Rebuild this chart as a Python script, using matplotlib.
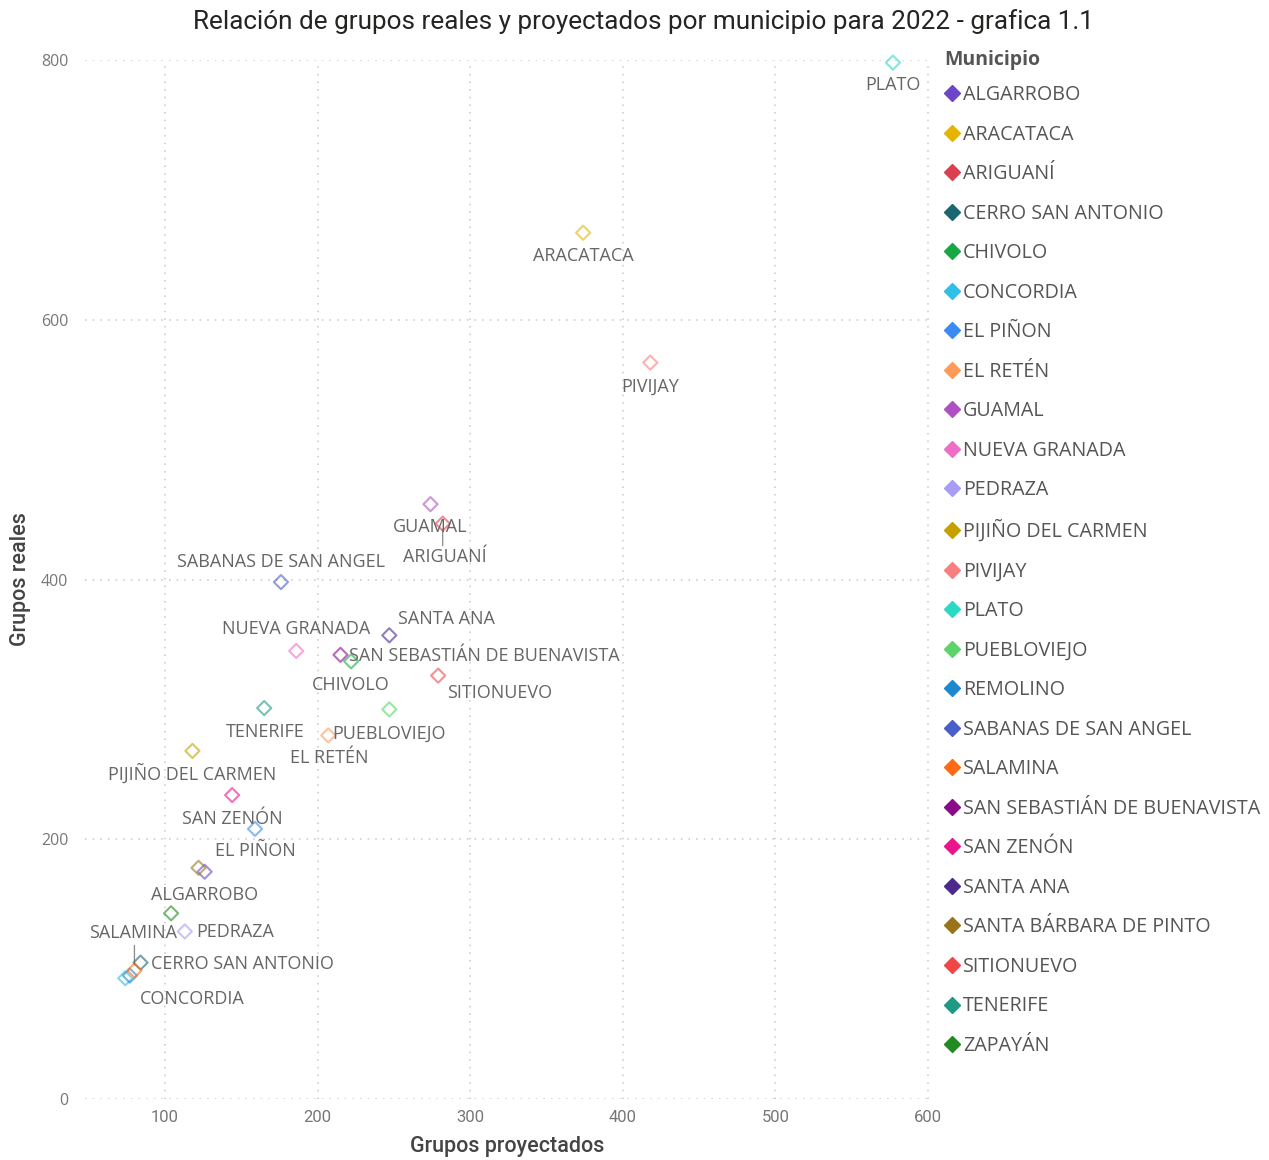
import matplotlib
matplotlib.use("Agg")
import matplotlib.pyplot as plt
from matplotlib.lines import Line2D
from matplotlib.colors import to_rgba

# ---------------- data ----------------
municipios = ["ALGARROBO", "ARACATACA", "ARIGUANÍ", "CERRO SAN ANTONIO", "CHIVOLO",
              "CONCORDIA", "EL PIÑON", "EL RETÉN", "GUAMAL", "NUEVA GRANADA", "PEDRAZA",
              "PIJIÑO DEL CARMEN", "PIVIJAY", "PLATO", "PUEBLOVIEJO", "REMOLINO",
              "SABANAS DE SAN ANGEL", "SALAMINA", "SAN SEBASTIÁN DE BUENAVISTA",
              "SAN ZENÓN", "SANTA ANA", "SANTA BÁRBARA DE PINTO", "SITIONUEVO",
              "TENERIFE", "ZAPAYÁN"]
grupos_proyectados = [126, 374, 282, 84, 222, 74, 159, 207, 274, 186, 113,
                      118, 418, 577, 247, 77, 176, 80, 215, 144, 247, 122, 279,
                      165, 104]
grupos_reales = [175, 667, 443, 105, 337, 93, 208, 280, 458, 345, 129,
                 268, 567, 798, 300, 95, 398, 99, 342, 234, 357, 178, 326,
                 301, 143]
colores = ["#6B46C8", "#E6B400", "#D9414F", "#1C6670", "#17A843", "#2EC0E8",
           "#3B8BF2", "#FF9A57", "#B04FC2", "#F06CC6", "#A99CF7", "#C4A000",
           "#F77F7F", "#2AD9C2", "#5CD46A", "#1B88CF", "#4A5EC7", "#FF6B13",
           "#8A0A8A", "#E8168A", "#4A2A8A", "#9A7416", "#F24646", "#1E9985",
           "#228A22"]
etiquetas_visibles = ["ALGARROBO", "ARACATACA", "ARIGUANÍ", "CERRO SAN ANTONIO", "CHIVOLO",
                      "CONCORDIA", "EL PIÑON", "EL RETÉN", "GUAMAL", "NUEVA GRANADA",
                      "PEDRAZA", "PIJIÑO DEL CARMEN", "PIVIJAY", "PLATO", "PUEBLOVIEJO",
                      "SABANAS DE SAN ANGEL", "SALAMINA", "SAN SEBASTIÁN DE BUENAVISTA",
                      "SAN ZENÓN", "SANTA ANA", "SITIONUEVO", "TENERIFE"]
x_ticks = [100, 200, 300, 400, 500, 600]
y_ticks = [0, 200, 400, 600, 800]

# ---------------- label placement (pixel offsets, ha) ----------------
label_pos = {
    "PLATO": (0, -22, "center"),
    "ARACATACA": (0, -23, "center"),
    "PIVIJAY": (0, -24, "center"),
    "GUAMAL": (0, -23, "center"),
    "ARIGUANÍ": (2, -33, "center"),
    "SABANAS DE SAN ANGEL": (0, 20, "center"),
    "SANTA ANA": (9, 16, "left"),
    "NUEVA GRANADA": (0, 22, "center"),
    "SAN SEBASTIÁN DE BUENAVISTA": (9, -1, "left"),
    "CHIVOLO": (0, -24, "center"),
    "SITIONUEVO": (9, -17, "left"),
    "TENERIFE": (1, -24, "center"),
    "PUEBLOVIEJO": (0, -24, "center"),
    "EL RETÉN": (1, -23, "center"),
    "PIJIÑO DEL CARMEN": (0, -23, "center"),
    "SAN ZENÓN": (0, -24, "center"),
    "EL PIÑON": (0, -22, "center"),
    "ALGARROBO": (0, -23, "center"),
    "PEDRAZA": (11, -1, "left"),
    "SALAMINA": (-1, 37, "center"),
    "CERRO SAN ANTONIO": (10, -1, "left"),
    "CONCORDIA": (15, -21, "left"),
}
leaders = {"ARIGUANÍ": 22, "SALAMINA": 25}

W, H = 1269, 1160
fig = plt.figure(figsize=(W / 100, H / 100), dpi=100)
fig.patch.set_facecolor("white")
ax = fig.add_axes([85 / W, 1 - 1099 / H, (930 - 85) / W, (1099 - 60) / H])

lab_font = "Open Sans"
ax.set_xlim(47.6, 601.3)
ax.set_ylim(0, 800)
ax.set_xticks(x_ticks)
ax.set_yticks(y_ticks)
for s in ax.spines.values():
    s.set_visible(False)
ax.grid(True, color="#C8C8C8", linestyle=(0, (1, 4)), linewidth=1.1)
ax.set_axisbelow(True)
ax.tick_params(length=0, colors="#777777")
for t in ax.get_xticklabels():
    t.set_fontfamily("Roboto")
    t.set_fontsize(12)
    t.set_color("#777777")
for t in ax.get_yticklabels():
    t.set_fontfamily(lab_font)
    t.set_fontsize(11.5)
    t.set_color("#777777")
ax.tick_params(axis="x", pad=8)
ax.tick_params(axis="y", pad=12)

ax.set_xlabel("Grupos proyectados", fontsize=15.5, fontfamily="Roboto",
              color="#444444", labelpad=8, fontweight="medium")
ax.set_ylabel("Grupos reales", fontsize=15.5, fontfamily="Roboto",
              color="#444444", labelpad=7, fontweight="medium")

px2pt = 72 / 100
for name, xv, yv, c in zip(municipios, grupos_proyectados, grupos_reales, colores):
    ax.scatter([xv], [yv], marker="D", s=52, facecolors="none",
               edgecolors=[to_rgba(c, 0.6)], linewidths=1.5, clip_on=False, zorder=3)

for name in etiquetas_visibles:
    i = municipios.index(name)
    xv, yv = grupos_proyectados[i], grupos_reales[i]
    dx, dy, ha = label_pos[name]
    ax.annotate(name, (xv, yv), xytext=(dx * px2pt, dy * px2pt),
                textcoords="offset points", ha=ha, va="center",
                fontsize=13, fontfamily=lab_font, color="#666666", zorder=4)
    if name in leaders:
        L = leaders[name]
        sign = -1 if dy < 0 else 1
        ax.annotate("", (xv, yv), xytext=(0, sign * L * px2pt),
                    textcoords="offset points",
                    arrowprops=dict(arrowstyle="-", color="#888888", lw=0.9,
                                    shrinkA=0, shrinkB=4), zorder=2)

# legend
fig.text(944 / W, 1 - 60 / H, "Municipio", ha="left", va="center",
         fontsize=14, fontfamily=lab_font, fontweight="bold", color="#555555")
handles = [Line2D([], [], marker="D", linestyle="none", markersize=8,
                  markerfacecolor=c, markeredgecolor=c) for c in colores]
leg = fig.legend(handles, municipios, loc="upper left",
                 bbox_to_anchor=(945 / W, 1 - 85 / H), frameon=False,
                 prop={"family": lab_font, "size": 14.2},
                 handlelength=0.7, handletextpad=0.2, labelspacing=0.99,
                 borderaxespad=0, borderpad=0)
for t in leg.get_texts():
    t.set_color("#555555")

fig.text(643 / W, 1 - 22 / H,
         "Relación de grupos reales y proyectados por municipio para 2022 - grafica 1.1",
         ha="center", va="center", fontsize=18.8, fontfamily="Roboto", color="#252423")

fig.savefig("out.png", dpi=100, facecolor="white")
